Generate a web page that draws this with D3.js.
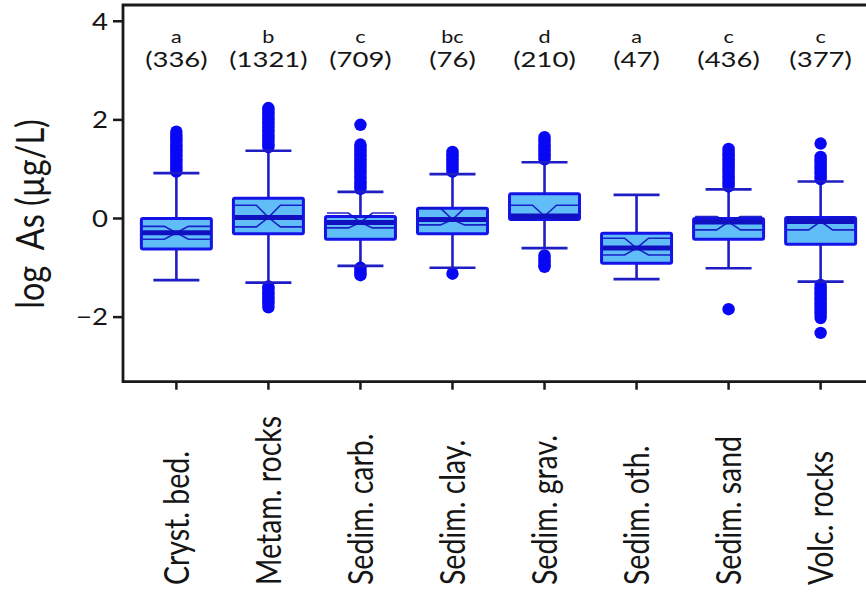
<!DOCTYPE html>
<html><head><meta charset="utf-8">
<script src="https://cdn.jsdelivr.net/npm/d3@7"></script>
<style>html,body{margin:0;padding:0;background:#fff;}svg{display:block;}</style>
</head><body>
<script>
const categories = ["Cryst. bed.","Metam. rocks","Sedim. carb.","Sedim. clay.","Sedim. grav.","Sedim. oth.","Sedim. sand","Volc. rocks"];
const groupLetters = ["a","b","c","bc","d","a","c","c"];
const counts = [336,1321,709,76,210,47,436,377];
const q1Values = [-0.62,-0.31,-0.42,-0.31,-0.02,-0.91,-0.42,-0.52];
const medianValues = [-0.29,0.02,-0.08,-0.02,0.05,-0.60,-0.07,-0.06];
const q3Values = [0.0,0.41,0.04,0.21,0.50,-0.30,0.0,0.02];
const notchLowValues = [-0.42,-0.17,-0.19,-0.13,-0.02,-0.74,-0.23,-0.23];
const notchHighValues = [-0.16,0.27,0.11,0.21,0.27,-0.40,0.04,0.02];
const whiskerLowValues = [-1.25,-1.30,-0.96,-1.0,-0.60,-1.23,-1.01,-1.28];
const whiskerHighValues = [0.92,1.375,0.54,0.9,1.14,0.48,0.59,0.75];
const outliersHigh = [
  [0.95,1.0,1.05,1.1,1.15,1.2,1.25,1.3,1.35,1.4,1.45,1.5,1.55,1.6,1.65,1.7,1.76],
  [1.45,1.5,1.55,1.6,1.65,1.7,1.75,1.8,1.85,1.9,1.95,2.0,2.05,2.1,2.15,2.2,2.24],
  [0.6,0.65,0.7,0.75,0.8,0.85,0.9,0.95,1.0,1.05,1.1,1.15,1.2,1.25,1.3,1.35,1.4,1.45,1.5,1.9],
  [0.95,1.0,1.05,1.1,1.15,1.2,1.25,1.3,1.35],
  [1.2,1.25,1.3,1.35,1.4,1.45,1.5,1.55,1.6,1.65],
  [],
  [0.65,0.7,0.75,0.8,0.85,0.9,0.95,1.0,1.05,1.1,1.15,1.2,1.25,1.3,1.35,1.41],
  [0.8,0.85,0.9,0.95,1.0,1.05,1.1,1.15,1.2,1.25,1.52]
];
const outliersLow = [
  [],
  [-1.38,-1.43,-1.48,-1.53,-1.58,-1.63,-1.68,-1.73,-1.80],
  [-1.0,-1.05,-1.1,-1.15],
  [-1.12],
  [-0.75,-0.8,-0.85,-0.9,-0.95,-0.98],
  [],
  [-1.84],
  [-1.35,-1.4,-1.45,-1.5,-1.55,-1.6,-1.65,-1.7,-1.75,-1.8,-1.85,-1.9,-1.95,-2.02,-2.32]
];
const yTicks = [-2,0,2,4];
const yTitle = "log  As (µg/L)";

const W = 866, H = 595;
const SX = 1.2;
const FONT = "Lato, 'Open Sans', sans-serif";
const TXT = "#151515";
const svg = d3.select("body").append("svg").attr("width", W).attr("height", H);

const pLeft = 123, pRight = 874, pTop = 5, pBottom = 381.7;
const x = d3.scalePoint().domain(categories).range([pLeft, pRight]).padding(0.58);
const y = d3.scaleLinear().domain([-3.31, 4.33]).range([pBottom, pTop]);

const boxW = 70, capW = 46, notchW = 12;
const boxStroke = "#1414e8", boxFill = "#60bdf8", whiskColor = "#1e1ec4", dotColor = "#0808f5", medColor = "#1010c0";

const data = categories.map((c,i)=>({c, i, q1:q1Values[i], med:medianValues[i], q3:q3Values[i],
  nlo:notchLowValues[i], nhi:notchHighValues[i], wlo:whiskerLowValues[i], whi:whiskerHighValues[i],
  oh:outliersHigh[i], ol:outliersLow[i]}));

const g = svg.append("g");
const grp = g.selectAll("g.box").data(data).join("g").attr("class","box");
grp.append("line").attr("x1",d=>x(d.c)).attr("x2",d=>x(d.c)).attr("y1",d=>y(d.wlo)).attr("y2",d=>y(d.whi))
  .attr("stroke",whiskColor).attr("stroke-width",2.6);
grp.selectAll("circle").data(d=>d.oh.concat(d.ol).map(v=>({c:d.c,v}))).join("circle")
  .attr("cx",d=>x(d.c)).attr("cy",d=>y(d.v)).attr("r",6.2).attr("fill",dotColor);
grp.selectAll("line.cap").data(d=>[{c:d.c,v:d.wlo},{c:d.c,v:d.whi}]).join("line").attr("class","cap")
  .attr("x1",d=>x(d.c)-capW/2).attr("x2",d=>x(d.c)+capW/2).attr("y1",d=>y(d.v)).attr("y2",d=>y(d.v))
  .attr("stroke",whiskColor).attr("stroke-width",2.6);
grp.append("rect").attr("x",d=>x(d.c)-boxW/2).attr("width",boxW).attr("y",d=>y(d.q3)).attr("height",d=>y(d.q1)-y(d.q3))
  .attr("fill",boxFill).attr("stroke",boxStroke).attr("stroke-width",3).attr("rx",1.5);
grp.append("path").attr("d",d=>{
  const cx=x(d.c), l=cx-boxW/2+1.5, r=cx+boxW/2-1.5, m=y(d.med), hi=y(d.nhi), lo=y(d.nlo);
  return `M${l},${hi}L${cx-notchW},${hi}L${cx},${m}L${cx-notchW},${lo}L${l},${lo}`+
         `M${r},${hi}L${cx+notchW},${hi}L${cx},${m}L${cx+notchW},${lo}L${r},${lo}`;
}).attr("fill","none").attr("stroke",medColor).attr("stroke-width",1.6).attr("opacity",0.9);
grp.append("line").attr("x1",d=>x(d.c)-boxW/2+1).attr("x2",d=>x(d.c)+boxW/2-1).attr("y1",d=>y(d.med)).attr("y2",d=>y(d.med))
  .attr("stroke",medColor).attr("stroke-width",5);

svg.append("path").attr("d",`M${pRight},${pTop}H${pLeft}V${pBottom}H${pRight}`).attr("fill","none").attr("stroke","#1a1a1a").attr("stroke-width",2.8);

const yAxis = svg.append("g");
yAxis.selectAll("line").data(yTicks).join("line").attr("x1",pLeft-10).attr("x2",pLeft).attr("y1",d=>y(d)).attr("y2",d=>y(d))
  .attr("stroke","#1a1a1a").attr("stroke-width",2.5);
yAxis.selectAll("text").data(yTicks).join("text")
  .attr("transform",d=>`translate(108,${y(d)}) scale(${SX},1)`).attr("dy","0.36em")
  .attr("text-anchor","end").attr("font-family",FONT).attr("font-size",23).attr("fill",TXT)
  .text(d=>d<0?"\u2212"+Math.abs(d):String(d));
svg.append("text").attr("transform",`translate(30,214) scale(${SX},1) rotate(-90)`).attr("dy","0.35em")
  .attr("text-anchor","middle").attr("font-family",FONT).attr("font-size",32.5).attr("fill",TXT)
  .style("white-space","pre").text(yTitle);

const xAxis = svg.append("g");
xAxis.selectAll("line").data(categories).join("line").attr("x1",d=>x(d)).attr("x2",d=>x(d)).attr("y1",pBottom).attr("y2",pBottom+8)
  .attr("stroke","#1a1a1a").attr("stroke-width",2.5);
xAxis.selectAll("text").data(categories).join("text")
  .attr("transform",d=>`translate(${x(d)},585) scale(${SX},1) rotate(-90)`).attr("dy","0.36em")
  .attr("text-anchor","start").attr("font-family",FONT).attr("font-size",28.5).attr("fill",TXT).text(d=>d);

const lab = svg.append("g");
lab.selectAll("text.l").data(categories).join("text").attr("class","l")
  .attr("transform",d=>`translate(${x(d)},43) scale(${SX},1)`).attr("text-anchor","middle")
  .attr("font-family",FONT).attr("font-size",18).attr("fill",TXT).text((d,i)=>groupLetters[i]);
lab.selectAll("text.n").data(categories).join("text").attr("class","n")
  .attr("transform",d=>`translate(${x(d)},67) scale(1.25,1)`).attr("text-anchor","middle")
  .attr("font-family",FONT).attr("font-size",22).attr("fill",TXT).text((d,i)=>`(${counts[i]})`);
</script>
</body></html>
